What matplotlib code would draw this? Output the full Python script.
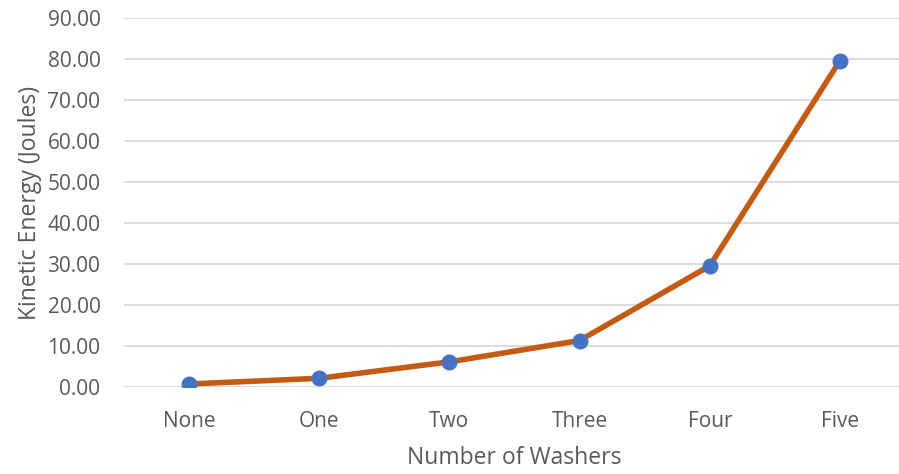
import matplotlib.pyplot as plt

plt.rcParams['font.family'] = ['Open Sans', 'DejaVu Sans']

washers = ['None', 'One', 'Two', 'Three', 'Four', 'Five']
energy = [0.8, 2.2, 6.2, 11.4, 29.6, 79.6]
y_ticks = [0, 10, 20, 30, 40, 50, 60, 70, 80, 90]

fig = plt.figure(figsize=(8.99, 4.74), dpi=100)
ax = fig.add_axes([124 / 899, 1 - 387.3 / 474, 781 / 899, 369.3 / 474])

x = list(range(len(washers)))
ax.plot(x, energy, color='#C55A11', linewidth=4, solid_capstyle='round',
        marker='o', markersize=10.5, markerfacecolor='#4472C4',
        markeredgecolor='#4472C4', zorder=3)

ax.set_xlim(-0.5, len(washers) - 0.5)
ax.set_ylim(0, 90)
ax.set_xticks(x)
ax.set_xticklabels(washers)
ax.set_yticks(y_ticks)
ax.set_yticklabels(['%.2f' % v for v in y_ticks])

ax.grid(axis='y', color='#D9D9D9', linewidth=1.3)
ax.set_axisbelow(True)
for s in ax.spines.values():
    s.set_visible(False)
ax.tick_params(length=0, labelsize=15, colors='#595959')
ax.tick_params(axis='y', pad=17)
ax.tick_params(axis='x', pad=17)

ax.set_xlabel('Number of Washers', fontsize=16.5, color='#595959', labelpad=10)
ax.set_ylabel('Kinetic Energy (Joules)', fontsize=16.5, color='#595959', labelpad=4)

fig.savefig('out.png', dpi=100)
